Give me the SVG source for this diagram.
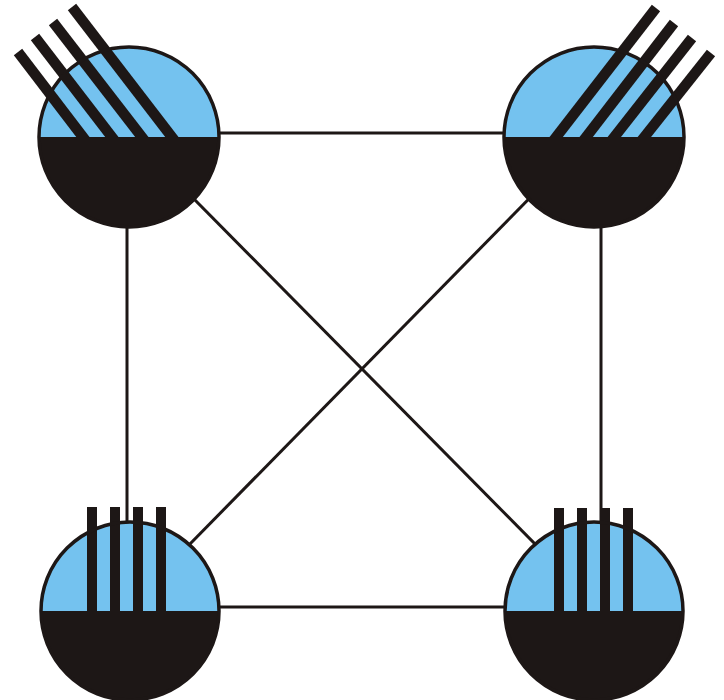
<svg xmlns="http://www.w3.org/2000/svg" width="724" height="700" viewBox="0 0 724 700">
<style>
.bg{fill:#ffffff}
.edge{stroke:#1d1716;stroke-width:3;fill:none}
.water{fill:#74c2ef}
.ground{fill:#1d1716}
.rim{fill:none;stroke:#1d1716;stroke-width:3.5}
.rod{stroke:#1d1716;stroke-width:10.5;stroke-linecap:butt}
.bar{fill:#1d1716}
</style>
<rect class="bg" x="0" y="0" width="724" height="700"/>
<g id="connectors">
<line class="edge" x1="129" y1="133" x2="594" y2="133"/>
<line class="edge" x1="130" y1="607" x2="594" y2="607"/>
<line class="edge" x1="127" y1="137" x2="127" y2="611"/>
<line class="edge" x1="601" y1="137" x2="601" y2="611"/>
<line class="edge" x1="150" y1="154.5" x2="570" y2="579.4"/>
<line class="edge" x1="570" y1="157" x2="160" y2="574.5"/>
</g>
<g id="node-top-left">
<path class="water" d="M39,137 A90,90 0 0 1 219,137 Z"/>
<line class="rod" x1="18" y1="52" x2="89" y2="145"/>
<line class="rod" x1="35" y1="37" x2="118" y2="145"/>
<line class="rod" x1="53" y1="22" x2="148" y2="145"/>
<line class="rod" x1="72" y1="7" x2="178" y2="145"/>
<path class="ground" d="M39,137 A90,90 0 0 0 219,137 Z"/>
<circle class="rim" cx="129" cy="137" r="90"/>
</g>
<g id="node-top-right">
<path class="water" d="M504,137 A90,90 0 0 1 684,137 Z"/>
<line class="rod" x1="656" y1="8" x2="550" y2="145"/>
<line class="rod" x1="674" y1="23" x2="580" y2="145"/>
<line class="rod" x1="692" y1="38" x2="608" y2="145"/>
<line class="rod" x1="711" y1="53" x2="638" y2="145"/>
<path class="ground" d="M504,137 A90,90 0 0 0 684,137 Z"/>
<circle class="rim" cx="594" cy="137" r="90"/>
</g>
<g id="node-bottom-left">
<path class="water" d="M41,611 A89,89 0 0 1 219,611 Z"/>
<rect class="bar" x="87" y="507" width="10" height="106"/>
<rect class="bar" x="110" y="507" width="10" height="106"/>
<rect class="bar" x="133" y="507" width="10" height="106"/>
<rect class="bar" x="156" y="507" width="10" height="106"/>
<path class="ground" d="M41,611 A89,89 0 0 0 219,611 Z"/>
<circle class="rim" cx="130" cy="611" r="89"/>
</g>
<g id="node-bottom-right">
<path class="water" d="M505,611 A89,89 0 0 1 683,611 Z"/>
<rect class="bar" x="554" y="508" width="10" height="105"/>
<rect class="bar" x="577" y="508" width="10" height="105"/>
<rect class="bar" x="600" y="508" width="10" height="105"/>
<rect class="bar" x="623" y="508" width="10" height="105"/>
<path class="ground" d="M505,611 A89,89 0 0 0 683,611 Z"/>
<circle class="rim" cx="594" cy="611" r="89"/>
</g>
</svg>
